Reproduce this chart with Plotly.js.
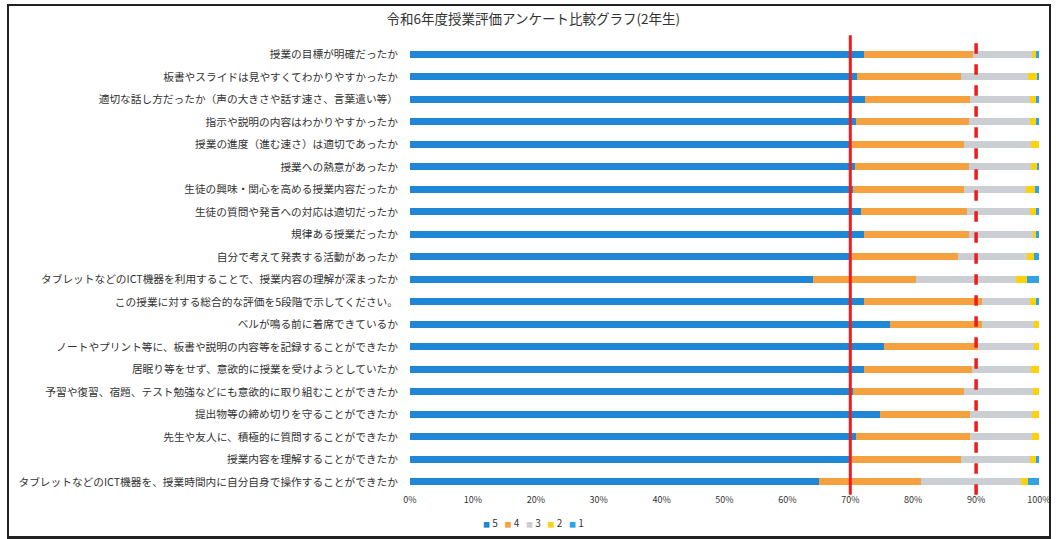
<!DOCTYPE html>
<html>
<head>
<meta charset="utf-8">
<script src="https://cdn.plot.ly/plotly-3.0.1.min.js"></script>
<style>
html,body{margin:0;padding:0;background:#fff;}
#wrap{position:relative;width:1056px;height:539px;}
#chart{width:1056px;height:539px;}
#frame{position:absolute;left:7px;top:4px;width:1040px;height:530px;border:2px solid #222;border-bottom-width:3px;pointer-events:none;}
</style>
</head>
<body>
<div id="wrap"><div id="chart"></div><div id="frame"></div></div>
<script>
const categories = [
  "授業の目標が明確だったか",
  "板書やスライドは見やすくてわかりやすかったか",
  "適切な話し方だったか（声の大きさや話す速さ、言葉遣い等）",
  "指示や説明の内容はわかりやすかったか",
  "授業の進度（進む速さ）は適切であったか",
  "授業への熱意があったか",
  "生徒の興味・関心を高める授業内容だったか",
  "生徒の質問や発言への対応は適切だったか",
  "規律ある授業だったか",
  "自分で考えて発表する活動があったか",
  "タブレットなどのICT機器を利用することで、授業内容の理解が深まったか",
  "この授業に対する総合的な評価を5段階で示してください。",
  "ベルが鳴る前に着席できているか",
  "ノートやプリント等に、板書や説明の内容等を記録することができたか",
  "居眠り等をせず、意欲的に授業を受けようとしていたか",
  "予習や復習、宿題、テスト勉強などにも意欲的に取り組むことができたか",
  "提出物等の締め切りを守ることができたか",
  "先生や友人に、積極的に質問することができたか",
  "授業内容を理解することができたか",
  "タブレットなどのICT機器を、授業時間内に自分自身で操作することができたか"
];
const s5 = [72.2,71.1,72.4,70.9,70.1,70.7,70.4,71.7,72.1,69.8,64.0,72.2,76.3,75.4,72.2,70.4,74.7,70.9,70.0,65.0];
const s4 = [17.3,16.5,16.6,17.9,18.0,18.2,17.6,16.9,16.8,17.3,16.4,18.7,14.6,14.9,17.2,17.7,14.3,18.2,17.6,16.2];
const s3 = [ 9.4,10.7, 9.5, 9.7,10.6, 9.9,10.0, 9.9,10.1,11.0,15.9, 7.6, 8.3, 8.9, 9.4,11.0, 9.9, 9.8,11.0,15.9];
const s2 = [ 0.7, 1.4, 1.1, 1.1, 1.3, 0.9, 1.4, 1.1, 0.6, 1.1, 1.8, 1.0, 0.8, 0.8, 1.2, 0.9, 1.1, 1.1, 0.9, 1.1];
const s1 = [ 0.4, 0.3, 0.4, 0.4, 0.0, 0.3, 0.6, 0.4, 0.4, 0.8, 1.9, 0.5, 0.0, 0.0, 0.0, 0.0, 0.0, 0.0, 0.5, 1.8];
const seriesNames = ["5","4","3","2","1"];
const seriesColors = ["#1f87d6","#f5a140","#cbced2","#ffd10a","#2ea3e6"];
const tickVals = [0,10,20,30,40,50,60,70,80,90,100];
const tickText = ["0%","10%","20%","30%","40%","50%","60%","70%","80%","90%","100%"];
const targetLine = 70;
const dashedLine = 90;
const chartTitle = "令和6年度授業評価アンケート比較グラフ(2年生)";

const all = [s5,s4,s3,s2,s1];
const traces = all.map((vals,i)=>({
  type:'bar', orientation:'h', name:seriesNames[i],
  x: vals.map((v,k)=> v / (s5[k]+s4[k]+s3[k]+s2[k]+s1[k]) * 100),
  y: categories,
  marker:{color:seriesColors[i]},
  hoverinfo:'x+name', showlegend:false
}));

const legendText = seriesNames.map((n,i)=>
  '<span style="color:' + seriesColors[i] + ';font-size:7px">■</span> ' + n).join('&nbsp;&nbsp;&nbsp;');

const layout = {
  width:1056, height:539,
  barmode:'stack', bargap:0.68,
  paper_bgcolor:'#fff', plot_bgcolor:'#fff',
  font:{family:'"Noto Sans CJK JP", "Noto Sans", sans-serif', color:'#333', size:10},
  title:{text:chartTitle, x:0.505, xanchor:'center', y:0.965, yanchor:'middle', font:{size:13.5, color:'#333'}},
  margin:{l:410, r:17, t:43, b:46, autoexpand:false},
  showlegend:false,
  xaxis:{range:[0,100], tickvals:tickVals, ticktext:tickText, showgrid:false, zeroline:false,
         showline:false, ticks:'', tickfont:{size:9, color:'#333'}, fixedrange:true},
  yaxis:{autorange:'reversed', showgrid:false, showline:false, ticks:'', ticklabelstandoff:11,
         tickfont:{size:10.7, color:'#333'}, fixedrange:true, type:'category'},
  annotations:[
    {xref:'paper', yref:'paper', x:0.196, y:-0.066, xanchor:'center', yanchor:'middle', showarrow:false,
     text:legendText, font:{size:10, color:'#333'}}
  ],
  shapes:[
    {type:'line', xref:'x', yref:'paper', x0:targetLine, x1:targetLine, y0:-0.004, y1:1.017,
     line:{color:'#ee1c1c', width:3}},
    {type:'line', xref:'x', yref:'paper', x0:dashedLine, x1:dashedLine, y0:-0.004, y1:1.017,
     line:{color:'#ee1c1c', width:3.5, dash:'dash'}}
  ]
};
Plotly.newPlot('chart', traces, layout, {displayModeBar:false, staticPlot:true});
</script>
</body>
</html>
